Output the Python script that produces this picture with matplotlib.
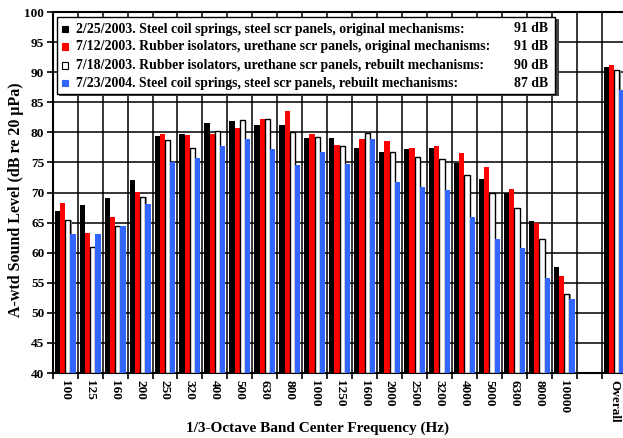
import numpy as np
import matplotlib
matplotlib.use("Agg")
from matplotlib import pyplot as plt
from matplotlib.patches import Rectangle

plt.rcParams["font.family"] = ["Liberation Serif", "DejaVu Serif"]
plt.rcParams["font.weight"] = "bold"

# Data
bands = ["100", "125", "160", "200", "250", "320", "400", "500", "630", "800",
         "1000", "1250", "1600", "2000", "2500", "3200", "4000", "5000", "6300",
         "8000", "10000", "", "Overall"]

s_2003_02 = [66.9, 67.9, 69.1, 72.1, 79.4, 79.7, 81.6, 81.9, 81.2, 81.2, 79.1,
             79.1, 77.4, 76.7, 77.2, 77.4, 74.9, 72.2, 69.9, 65.2, 57.6, None, 90.9]
s_2003_07a = [68.3, 63.3, 65.9, 70.1, 79.7, 79.6, 79.8, 80.7, 82.2, 83.5, 79.8,
              77.9, 78.9, 78.6, 77.4, 77.7, 76.6, 74.2, 70.5, 65.0, 56.1, None, 91.2]
s_2003_07b = [65.4, 60.9, 64.5, 69.2, 78.8, 77.4, 80.3, 82.0, 82.2, 80.0, 79.3,
              77.8, 79.9, 76.7, 75.9, 75.5, 72.9, 70.0, 67.5, 62.2, 53.1, None, 90.4]
s_2004 = [63.1, 63.1, 64.4, 68.1, 75.1, 75.7, 77.7, 78.9, 77.2, 74.6, 76.7,
          74.7, 78.9, 71.7, 70.9, 70.4, 65.9, 62.3, 60.8, 55.8, 52.3, None, 87.0]

labels = [
    "2/25/2003. Steel coil springs, steel scr panels, original mechanisms:",
    "7/12/2003. Rubber isolators, urethane scr panels, original mechanisms:",
    "7/18/2003. Rubber isolators, urethane scr panels, rebuilt mechanisms:",
    "7/23/2004. Steel coil springs, steel scr panels, rebuilt mechanisms:",
]
overall_text = ["91 dB", "91 dB", "90 dB", "87 dB"]

series = [s_2003_02, s_2003_07a, s_2003_07b, s_2004]
colors = ["#000000", "#ff0000", "#ffffff", "#3366ff"]
edges = ["#000000", "#ff0000", "#000000", "#3366ff"]

W, H = 623, 438
fig = plt.figure(figsize=(W / 100, H / 100), dpi=100)
ax = fig.add_axes([52.7 / W, 1 - 373 / H, 573.9 / W, 361 / H])

x = np.arange(len(bands))
width = 0.21
offsets = (np.arange(4) - 1.5) * width
for vals, off, c, ec in zip(series, offsets, colors, edges):
    v = np.array([np.nan if a is None else a for a in vals])
    if c == "#ffffff":
        # grey shading on the right of the open bars
        ax.bar(x + off + 0.05, v - 40, width, bottom=40, color="#999999",
               linewidth=0, zorder=2)
        ax.bar(x + off, v - 40, width, bottom=40, color=c, edgecolor=ec,
               linewidth=1.0, zorder=3)
    else:
        ax.bar(x + off, v - 40, width, bottom=40, color=c, edgecolor=ec,
               linewidth=0, zorder=3)

ax.set_xlim(-0.5, len(bands) - 0.5)
ax.set_ylim(40, 100)
ax.set_yticks(np.arange(40, 101, 5))
ax.set_xticks(x)
ax.set_xticklabels(bands, rotation=270, fontsize=9.5, fontweight="bold")
ax.set_xticks(np.arange(len(bands) + 1) - 0.5, minor=True)
ax.tick_params(axis="x", which="major", length=0, pad=5)
ax.tick_params(axis="x", which="minor", length=4, width=1.2, direction="out")
ax.tick_params(axis="y", length=4, width=1.2, labelsize=9.5, pad=2)
for t in ax.get_yticklabels():
    t.set_fontweight("bold")

ax.grid(True, axis="y", color="black", linewidth=1.1, zorder=1)
ax.grid(True, axis="x", which="minor", color="black", linewidth=1.1, zorder=1)
ax.set_axisbelow(True)
for sp in ax.spines.values():
    sp.set_linewidth(1.5)

ax.set_ylabel("A-wtd Sound Level (dB re 20 \u03bcPa)", fontsize=11.5,
              fontweight="bold", va="center")
ax.yaxis.set_label_coords(-0.064, 0.479)
ax.set_xlabel("1/3-Octave Band Center Frequency (Hz)", fontsize=11,
              fontweight="bold", va="center")
ax.xaxis.set_label_coords(0.462, -0.152)

# Legend box drawn in figure pixel coordinates
def fx(px):
    return px / W


def fy(py):
    return 1 - py / H


shadow = Rectangle((fx(59), fy(96)), fx(557) - fx(57), fy(19) - fy(96),
                   transform=fig.transFigure, facecolor="#444444",
                   edgecolor="none", zorder=5)
box = Rectangle((fx(57), fy(94)), fx(555) - fx(57), fy(17) - fy(94),
                transform=fig.transFigure, facecolor="white",
                edgecolor="black", linewidth=1.0, zorder=6)
fig.add_artist(shadow)
fig.add_artist(box)
rows = [29, 46.5, 65.5, 83.3]
for ry, lab, ot, c, ec in zip(rows, labels, overall_text, colors, edges):
    sq = Rectangle((fx(62), fy(ry + 3)), fx(6), fy(0) - fy(6),
                   transform=fig.transFigure, facecolor=c,
                   edgecolor="black" if c == "#ffffff" else ec,
                   linewidth=0.8, zorder=7)
    fig.add_artist(sq)
    fig.text(fx(76), fy(ry), lab, ha="left", va="center", fontsize=9.9,
             fontweight="bold", zorder=7)
    fig.text(fx(548), fy(ry), ot, ha="right", va="center", fontsize=9.9,
             fontweight="bold", zorder=7)

fig.savefig("out.png", dpi=100)
